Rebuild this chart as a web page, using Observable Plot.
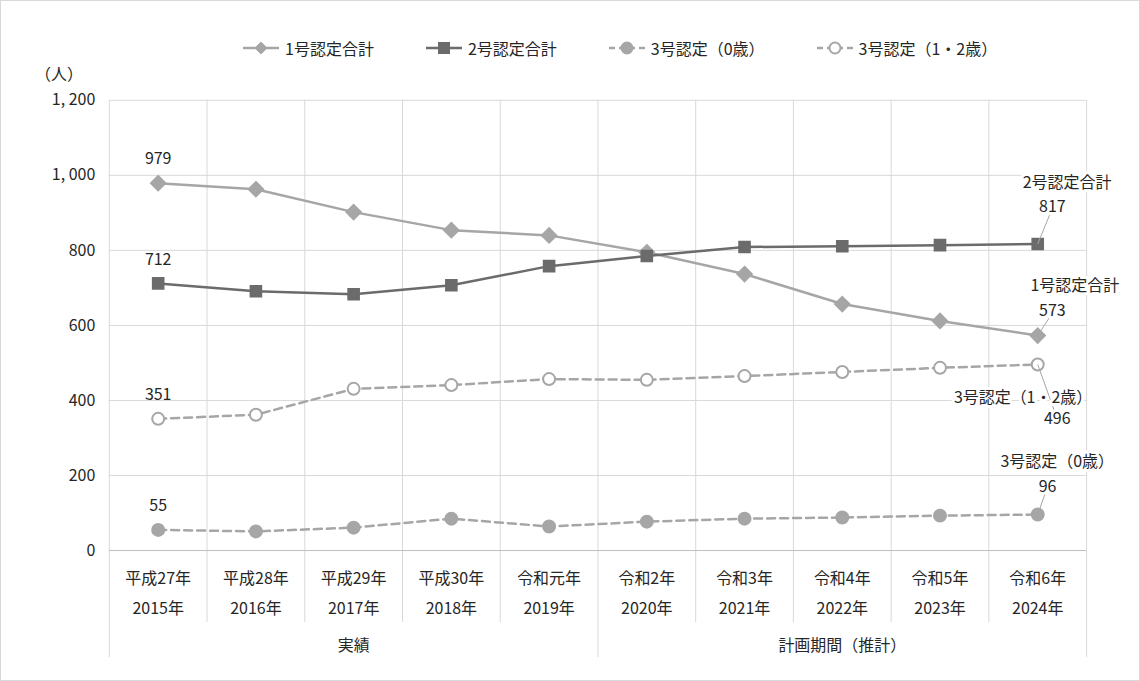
<!DOCTYPE html>
<html><head><meta charset="utf-8">
<script src="https://cdn.jsdelivr.net/npm/d3@7"></script>
<script src="https://cdn.jsdelivr.net/npm/@observablehq/plot@0.6"></script>
<style>
body{margin:0;background:#fff;font-family:"Noto Sans CJK JP",sans-serif;}
#wrap{position:relative;width:1138px;height:679px;border:1px solid #d9d9d9;}
#legend{position:absolute;top:35px;left:240px;display:flex;gap:50px;font-size:16px;color:#262626;}
#legend span{display:flex;align-items:center;gap:4px;}
#unit{position:absolute;left:34px;top:60px;font-size:16px;color:#262626;}
#chart{position:absolute;left:0;top:0;}
</style></head><body>
<div id="wrap"><div id="chart"></div><div id="unit">（人）</div><div id="legend"></div></div>
<script>
const eras = ["平成27年","平成28年","平成29年","平成30年","令和元年","令和2年","令和3年","令和4年","令和5年","令和6年"];
const years = ["2015年","2016年","2017年","2018年","2019年","2020年","2021年","2022年","2023年","2024年"];
const groups = [["実績", 2], ["計画期間（推計）", 7]];
const s1 = [979, 963, 902, 854, 840, 795, 737, 657, 612, 573];
const s2 = [712, 691, 683, 707, 758, 785, 809, 811, 814, 817];
const s3 = [55, 51, 61, 85, 64, 77, 85, 88, 93, 96];
const s4 = [351, 362, 431, 441, 457, 455, 465, 476, 487, 496];
const yTicks = [0, 200, 400, 600, 800, 1000, 1200];

const series = [
  {name: "1号認定合計", values: s1, color: "#a6a6a6", dash: null, symbol: "diamond2", fill: "#a6a6a6", end: ["1号認定合計", 573], lab: [9.38, 705, 9.15, 640]},
  {name: "2号認定合計", values: s2, color: "#6b6b6b", dash: null, symbol: "square", fill: "#6b6b6b", end: ["2号認定合計", 817], lab: [9.3, 980, 9.15, 915]},
  {name: "3号認定（0歳）", values: s3, color: "#a6a6a6", dash: "8,5", symbol: "circle", fill: "#a6a6a6", end: ["3号認定（0歳）", 96], lab: [9.2, 235, 9.1, 170]},
  {name: "3号認定（1・2歳）", values: s4, color: "#a6a6a6", dash: "8,5", symbol: "circle", fill: "#fff", end: ["3号認定（1・2歳）", 496], lab: [8.85, 408, 9.2, 350]}
];

const font = "Noto Sans CJK JP";
const marks = [];
marks.push(Plot.ruleY(yTicks, {stroke: "#d9d9d9"}));
const bounds = d3.range(11).map(i => i - 0.5);
marks.push(Plot.ruleX(bounds, {y1: 0, y2: 1200, stroke: "#d9d9d9"}));
marks.push(Plot.ruleX(bounds, {y1: 0, y2: d => [-0.5, 4.5, 9.5].includes(d) ? -285 : -192, stroke: "#d9d9d9"}));
marks.push(Plot.ruleY([0], {stroke: "#bfbfbf"}));
marks.push(Plot.text(yTicks, {x: -0.5, y: d => d, text: d => d3.format(",")(d).replace(",", ", "), textAnchor: "end", dx: -14, fontSize: 16, fill: "#262626"}));
marks.push(Plot.text(eras, {x: (d, i) => i, y: -75, text: d => d, fontSize: 16, fill: "#262626"}));
marks.push(Plot.text(years, {x: (d, i) => i, y: -155, text: d => d, fontSize: 16, fill: "#262626"}));
marks.push(Plot.text(groups, {x: d => d[1], y: -253, text: d => d[0], fontSize: 16, fill: "#262626"}));

for (const s of series) {
  const data = s.values.map((v, i) => ({i, v}));
  marks.push(Plot.line(data, {x: "i", y: "v", stroke: s.color, strokeWidth: 2.5, strokeDasharray: s.dash}));
  marks.push(Plot.dot(data, {x: "i", y: "v", symbol: s.symbol, r: s.symbol === "diamond2" ? 6.5 : 6, fill: s.fill, stroke: s.color, strokeWidth: 2}));
  marks.push(Plot.text([data[0]], {x: "i", y: "v", text: d => String(d.v), dy: -24, fontSize: 16, fill: "#262626"}));
  const [nx, ny, vx, vy] = s.lab;
  marks.push(Plot.link([{}], {x1: 9, y1: s.values[9], x2: vx - 0.02, y2: vy + (vy < s.values[9] ? 15 : -15), stroke: "#a6a6a6", strokeWidth: 1}));
  marks.push(Plot.text([s.end[0]], {x: nx, y: ny, text: d => d, fontSize: 16, fill: "#262626", stroke: "#fff", strokeWidth: 6}));
  marks.push(Plot.text([s.end[1]], {x: vx, y: vy, text: d => String(d), fontSize: 16, fill: "#262626", stroke: "#fff", strokeWidth: 6}));
}

const chart = Plot.plot({
  width: 1140, height: 681,
  marginLeft: 108, marginRight: 53, marginTop: 99, marginBottom: 131,
  style: {fontFamily: font, background: "transparent", overflow: "visible"},
  x: {domain: [-0.5, 9.5], axis: null},
  y: {domain: [0, 1200], axis: null},
  clip: false,
  marks
});
document.getElementById("chart").appendChild(chart);

const leg = document.getElementById("legend");
for (const s of series) {
  const shape = s.symbol === "diamond2" ? `<path d="M20,3.5 L26.5,10 L20,16.5 L13.5,10Z" fill="${s.fill}"/>`
    : s.symbol === "square" ? `<rect x="14.5" y="4.5" width="11" height="11" fill="${s.fill}" stroke="${s.color}"/>`
    : `<circle cx="20" cy="10" r="5.5" fill="${s.fill}" stroke="${s.color}" stroke-width="2"/>`;
  leg.insertAdjacentHTML("beforeend", `<span><svg width="40" height="20"><line x1="2" x2="38" y1="10" y2="10" stroke="${s.color}" stroke-width="2.5" ${s.dash ? `stroke-dasharray="6,4"` : ""}/>${shape}</svg>${s.name}</span>`);
}
</script></body></html>
